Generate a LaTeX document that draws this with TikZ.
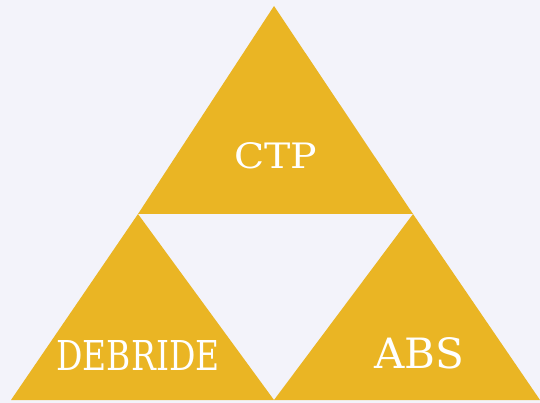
\documentclass[tikz,border=0pt]{standalone}
\usepackage{fontspec}
\setmainfont{DejaVu Serif}
\definecolor{gold}{RGB}{234,181,36}
\definecolor{bgc}{RGB}{243,243,250}
\begin{document}
\begin{tikzpicture}[x=1pt,y=-1pt,
  tri/.style={fill=gold},
  lbl/.style={text=white, anchor=base, inner sep=0pt, font=\fontsize{40}{40}\selectfont}]
\fill[bgc] (0,0) rectangle (540,403);
\useasboundingbox (0,0) rectangle (540,403);
\coordinate (apex) at (274,6);
\coordinate (ml) at (138,214);
\coordinate (mr) at (413,214);
\coordinate (bl) at (11,400);
\coordinate (bm) at (274,400);
\coordinate (br) at (540,400);
\fill[tri] (apex) -- (ml) -- (mr) -- cycle;
\fill[tri] (ml) -- (bl) -- (bm) -- cycle;
\fill[tri] (mr) -- (bm) -- (br) -- cycle;
\node[lbl] (ctp) at (276,169) {\resizebox{83pt}{26pt}{CTP}};
\node[lbl] (debride) at (138,370) {\resizebox{163pt}{30pt}{DEBRIDE}};
\node[lbl] (abs) at (419,368) {\resizebox{90pt}{31pt}{ABS}};
\end{tikzpicture}
\end{document}
